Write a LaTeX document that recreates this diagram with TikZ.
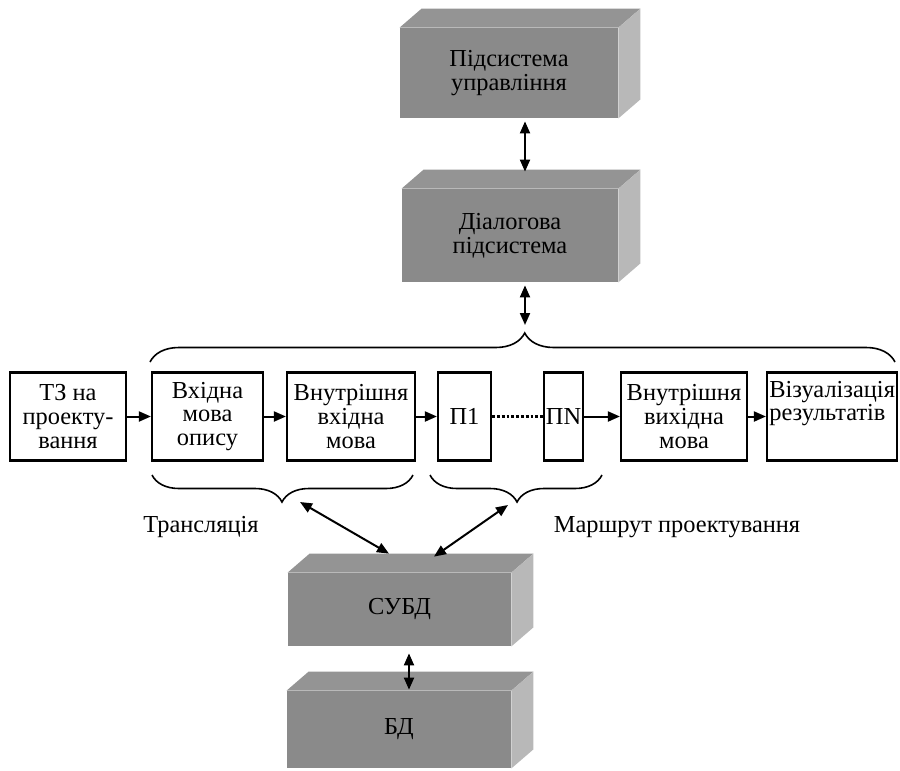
\documentclass[tikz,border=0pt]{standalone}
\usepackage{fontspec}
\setmainfont{Liberation Serif}
\usetikzlibrary{arrows.meta,decorations.pathreplacing}

% Shaded box drawn as a cuboid: front face is the named node,
% top and right faces are filled beside it.
\newcommand\cubefaces[1]{%
  \fill[topface] (#1.north west) -- ++(22,-19)
     -- ([shift={(22,-19)}]#1.north east) -- (#1.north east) -- cycle;
  \fill[sideface] (#1.north east) -- ++(22,-19)
     -- ([shift={(22,-19)}]#1.south east) -- (#1.south east) -- cycle;
}

\begin{document}
\begin{tikzpicture}[x=0.5pt,y=-0.5pt,
  font=\fontsize{12.2}{11.9}\selectfont,
  blk/.style={draw,line width=1.1pt,inner sep=0pt,align=center,minimum height=44pt},
  front/.style={fill=black!46,inner sep=0pt,align=center},
  topface/.style={fill=black!42},
  sideface/.style={fill=black!28},
  flow/.style={line width=1pt,-{Triangle[length=6pt,width=5pt]}},
  both/.style={line width=1pt,{Triangle[length=6pt,width=5pt]}-{Triangle[length=6pt,width=5pt]}},
  brc/.style={line width=0.8pt,decorate,decoration={brace,amplitude=#1}},
]
\useasboundingbox (0,0) rectangle (900,771);

% ---- shaded subsystems ----
\node[front,minimum width=109pt,minimum height=45pt] (ctl) at (509,73)
  {Підсистема\\управління};
\node[front,minimum width=108pt,minimum height=46.5pt] (dlg) at (510,235.5)
  {Діалогова\\підсистема};
\node[front,minimum width=111.5pt,minimum height=36.5pt] (subd) at (399.5,609.5)
  {СУБД};
\node[front,minimum width=112pt,minimum height=38.5pt] (bd) at (399,729.5)
  {БД};
\cubefaces{ctl}
\cubefaces{dlg}
\cubefaces{subd}
\cubefaces{bd}

% ---- design chain ----
\node[blk,minimum width=58pt]   (b1) at (68,416.5)    {ТЗ на\\проекту-\\вання};
\node[blk,minimum width=55.5pt] (b2) at (207.5,416.5) {Вхідна\\мова\\опису};
\node[blk,minimum width=64pt]   (b3) at (351,416.5)   {Внутрішня\\вхідна\\мова};
\node[blk,minimum width=26.5pt] (b4) at (464.5,416.5) {П1};
\node[blk,minimum width=19.5pt] (b5) at (563.5,416.5) {ПN};
\node[blk,minimum width=63pt]   (b6) at (684,416.5)   {Внутрішня\\вихідна\\мова};
\node[blk,minimum width=65pt]   (b7) at (832,416.5)   {};
\node[anchor=west,align=left,inner sep=0pt] (t7) at (769,403.5)
  {Візуалізація\\результатів};

\draw[flow] (b1) -- (b2);
\draw[flow] (b2) -- (b3);
\draw[flow] (b3) -- (b4);
\draw[line width=1.3pt,dash pattern=on 1.4pt off 1pt] (b4) -- (b5);
\draw[flow] (b5) -- (b6);
\draw[flow] (b6) -- (b7);

% ---- braces ----
\draw[brc=14.5pt,decoration={aspect=0.503}] (150,362) -- (895,362);
\coordinate (tb) at (525,333);
\draw[brc=13.5pt,decoration={aspect=0.502}] (413,475) -- (152,475);
\draw[brc=13.5pt,decoration={aspect=0.494}] (602,475) -- (430,475);
\coordinate (l1) at (300,502);
\coordinate (l2) at (508,505);

\node (tr) at (201,527) {Трансляція};
\node (mr) at (677,527) {Маршрут проектування};

% ---- links ----
\coordinate (ax) at (525,0);
\coordinate (bx) at (409,0);
\draw[both,shorten <=1.5pt,shorten >=8.5pt] (ctl.south -| ax) -- (dlg.north -| ax);
\draw[both,shorten <=1.5pt,shorten >=4pt] (dlg.south -| ax) -- (tb);
\draw[both] (l1) -- ([shift={(-10.5,-19)}]subd.north);
\draw[both] (l2) -- ([shift={(34.5,-16)}]subd.north);
\draw[both,shorten <=3.5pt,shorten >=0.5pt] (subd.south -| bx) -- (bd.north -| bx);
\end{tikzpicture}
\end{document}
